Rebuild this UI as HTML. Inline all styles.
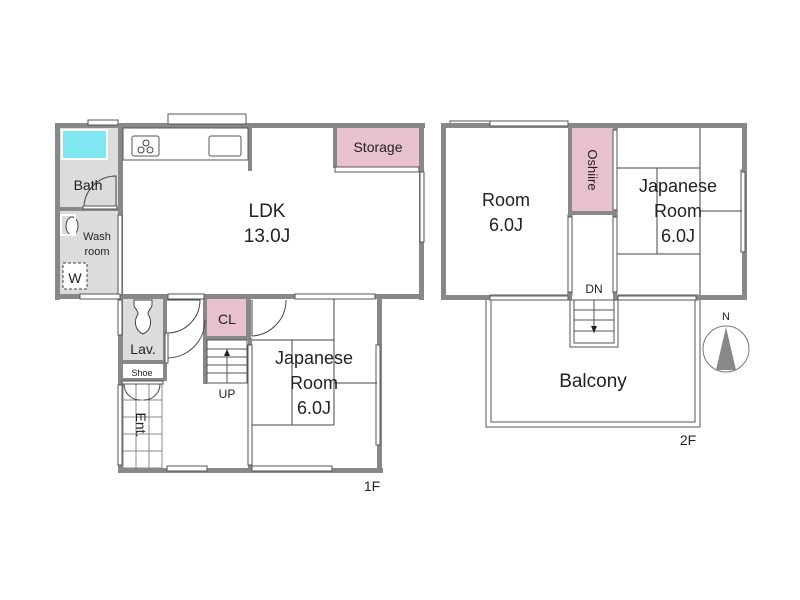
<!DOCTYPE html>
<html><head><meta charset="utf-8"><style>
html,body{margin:0;padding:0;background:#fff;}
svg{display:block;}
text{font-family:"Liberation Sans",sans-serif;fill:#222;}
</style></head><body>
<svg width="800" height="600" viewBox="0 0 800 600" xmlns="http://www.w3.org/2000/svg">
<rect width="800" height="600" fill="#fff"/>
<!-- 1F fills -->
<rect x="57" y="126" width="63" height="172" fill="#dcdcdc"/>
<rect x="122" y="298" width="43" height="62" fill="#dcdcdc"/>
<rect x="335" y="127" width="86" height="40" fill="#e8c1cf"/>
<rect x="206" y="299" width="43" height="39" fill="#e8c1cf"/>
<rect x="62" y="130" width="45" height="29" fill="#80e6f2" stroke="#fff" stroke-width="2"/>
<!-- 1F walls -->
<g fill="#888">
<rect x="55" y="123" width="370" height="5"/>
<rect x="55" y="123" width="5" height="177"/>
<rect x="419" y="123" width="5" height="177"/>
<rect x="55" y="294" width="369" height="5"/>
<rect x="118" y="123" width="5" height="350"/>
<rect x="118" y="468" width="265" height="5"/>
<rect x="377" y="294" width="5" height="179"/>
<rect x="55" y="207" width="65" height="4"/>
<rect x="248" y="123" width="4" height="48"/>
<rect x="333" y="123" width="4" height="45"/>
<rect x="163" y="296" width="4" height="85"/>
<rect x="120" y="360" width="45" height="4"/>
<rect x="120" y="378" width="45" height="3"/>
<rect x="203" y="296" width="4" height="88"/>
<rect x="246" y="296" width="5" height="42"/>
<rect x="203" y="336" width="46" height="4"/>
<rect x="248" y="338" width="4" height="132"/>
</g>
<!-- windows -->
<g fill="#fff" stroke="#555" stroke-width="1">
<rect x="168" y="114" width="78" height="10"/>
<rect x="88" y="120" width="30" height="5"/>
<rect x="335" y="167" width="84" height="5"/>
<rect x="420" y="172" width="4" height="70"/>
<rect x="118" y="215" width="4" height="80"/>
<rect x="80" y="294" width="40" height="5"/>
<rect x="295" y="294" width="80" height="5"/>
<rect x="168" y="294" width="36" height="5"/>
<rect x="118" y="300" width="4" height="35"/>
<rect x="118" y="385" width="4" height="80"/>
<rect x="167" y="466" width="40" height="5"/>
<rect x="252" y="466" width="80" height="5"/>
<rect x="376" y="345" width="4" height="100"/>
<rect x="248" y="345" width="4" height="120"/>
<rect x="450" y="121" width="85" height="5"/>
<rect x="741" y="170" width="4" height="80"/>
<rect x="568" y="215" width="4" height="80"/>
<rect x="613" y="128" width="4" height="165"/>
<rect x="490" y="295" width="80" height="5"/>
<rect x="618" y="295" width="80" height="5"/>
</g>
<!-- kitchen -->
<rect x="123" y="128" width="125" height="32" fill="#fff" stroke="#555"/>
<rect x="132" y="136" width="27" height="20" fill="#fff" stroke="#555" rx="2"/>
<circle cx="141" cy="150" r="3" fill="none" stroke="#444"/><circle cx="150" cy="150" r="3" fill="none" stroke="#444"/><circle cx="146" cy="143" r="3" fill="none" stroke="#444"/>
<rect x="209" y="136" width="32" height="20" fill="#fff" stroke="#555" rx="2"/>
<!-- bath door -->
<path d="M84 207 A32 32 0 0 1 116 176 L116 207" fill="none" stroke="#444"/>
<rect x="83" y="206" width="34" height="3" fill="#fff" stroke="#555"/>
<ellipse cx="72" cy="226" rx="6" ry="9" fill="#fff" stroke="#444"/>
<rect x="61" y="215" width="14" height="20" fill="none" stroke="#fff" stroke-width="2"/>
<rect x="63" y="263" width="24" height="26" fill="#fff" stroke="#444" stroke-dasharray="3,2"/>
<!-- lav toilet -->
<path d="M134 300 L152 300 L152 305 C152 308 148 310 148 314 C152 320 152 330 143 334 C134 330 134 320 138 314 C138 310 134 308 134 305 Z" fill="#fff" stroke="#444"/>
<rect x="123" y="364" width="40" height="14" fill="#fff"/>
<!-- doors -->
<path d="M167 300 L200 300 A33 33 0 0 1 167 333" fill="none" stroke="#444"/>
<path d="M167 338 L167 358 M167 358 A38 38 0 0 0 205 320" fill="none" stroke="#444"/>
<rect x="165" y="333" width="3" height="30" fill="#fff" stroke="#555"/>
<path d="M252 300 L252 336 A36 36 0 0 0 286 300" fill="none" stroke="#444"/>
<!-- ent grid -->
<g stroke="#888" fill="none">
<rect x="123" y="383" width="39" height="85" fill="#fff"/>
<line x1="123" y1="400" x2="162" y2="400"/><line x1="123" y1="417" x2="162" y2="417"/><line x1="123" y1="434" x2="162" y2="434"/><line x1="123" y1="451" x2="162" y2="451"/>
<line x1="136" y1="383" x2="136" y2="468"/><line x1="149" y1="383" x2="149" y2="468"/>
</g>
<path d="M124 384 A16 16 0 0 0 140 400 M160 384 A16 16 0 0 1 144 400" fill="none" stroke="#444"/>
<rect x="122" y="381" width="41" height="3" fill="#fff" stroke="#555"/>
<!-- stairs 1F -->
<g stroke="#555" fill="none">
<rect x="207" y="340" width="40" height="43"/>
<line x1="207" y1="349" x2="247" y2="349"/><line x1="207" y1="357" x2="247" y2="357"/><line x1="207" y1="365" x2="247" y2="365"/><line x1="207" y1="373" x2="247" y2="373"/>
<line x1="227" y1="350" x2="227" y2="383"/>
</g>
<path d="M224 356 L227 349 L230 356 Z" fill="#222"/>
<!-- tatami 1F -->
<g stroke="#444" fill="none">
<line x1="252" y1="340" x2="334" y2="340"/>
<line x1="334" y1="299" x2="334" y2="425"/>
<line x1="292" y1="340" x2="292" y2="425"/>
<line x1="252" y1="425" x2="334" y2="425"/>
<line x1="334" y1="383" x2="377" y2="383"/>
</g>
<!-- 2F -->
<rect x="572" y="128" width="41" height="84" fill="#e8c1cf"/>
<g fill="#888">
<rect x="441" y="123" width="306" height="5"/>
<rect x="441" y="123" width="5" height="177"/>
<rect x="742" y="123" width="5" height="177"/>
<rect x="441" y="295" width="130" height="5"/>
<rect x="616" y="295" width="131" height="5"/>
<rect x="568" y="123" width="4" height="177"/>
<rect x="613" y="123" width="4" height="177"/>
<rect x="568" y="211" width="49" height="4"/>
</g>
<g fill="#fff" stroke="#555">
<rect x="490" y="121" width="78" height="5"/>
<rect x="741" y="172" width="4" height="80"/>
<rect x="568" y="217" width="4" height="75"/>
<rect x="613" y="130" width="4" height="80"/>
<rect x="613" y="217" width="4" height="75"/>
<rect x="490" y="296" width="78" height="4"/>
<rect x="618" y="296" width="78" height="4"/>
</g>
<g stroke="#444" fill="none">
<line x1="700" y1="128" x2="700" y2="295"/>
<line x1="617" y1="168" x2="700" y2="168"/>
<line x1="657" y1="168" x2="657" y2="254"/>
<line x1="617" y1="254" x2="700" y2="254"/>
<line x1="700" y1="211" x2="742" y2="211"/>
</g>
<!-- balcony -->
<path d="M486 300 L486 427 L700 427 L700 300" fill="none" stroke="#555"/>
<path d="M491 300 L491 422 L695 422 L695 300" fill="none" stroke="#555"/>
<!-- stairs 2F -->
<g stroke="#555" fill="none">
<rect x="570" y="300" width="48" height="47"/>
<rect x="574" y="300" width="40" height="43"/>
<line x1="574" y1="310" x2="614" y2="310"/><line x1="574" y1="320" x2="614" y2="320"/><line x1="574" y1="331" x2="614" y2="331"/>
<line x1="594" y1="300" x2="594" y2="333"/>
</g>
<path d="M591 326 L594 333 L597 326 Z" fill="#222"/>
<!-- compass -->
<circle cx="726" cy="349" r="23" fill="#fff" stroke="#777"/>
<path d="M726 327 L716 370 L736 370 Z" fill="#888"/>
<text x="726" y="320" font-size="11" text-anchor="middle" fill="#666">N</text>
<!-- labels -->
<text x="267" y="217" font-size="19" text-anchor="middle">LDK</text>
<text x="267" y="242" font-size="19" text-anchor="middle">13.0J</text>
<text x="378" y="152" font-size="14" text-anchor="middle">Storage</text>
<text x="88" y="190" font-size="14" text-anchor="middle">Bath</text>
<text x="97" y="240" font-size="11" text-anchor="middle">Wash</text>
<text x="97" y="255" font-size="11" text-anchor="middle">room</text>
<text x="75" y="283" font-size="14" text-anchor="middle">W</text>
<text x="143" y="354" font-size="14" text-anchor="middle">Lav.</text>
<text x="142" y="376" font-size="9" text-anchor="middle">Shoe</text>
<text x="227" y="324" font-size="14" text-anchor="middle">CL</text>
<text x="227" y="398" font-size="12" text-anchor="middle">UP</text>
<text transform="translate(136,425) rotate(90)" font-size="14" text-anchor="middle">Ent.</text>
<text x="314" y="364" font-size="18" text-anchor="middle">Japanese</text>
<text x="314" y="389" font-size="18" text-anchor="middle">Room</text>
<text x="314" y="414" font-size="18" text-anchor="middle">6.0J</text>
<text x="372" y="491" font-size="14" text-anchor="middle">1F</text>
<text x="506" y="206" font-size="18" text-anchor="middle">Room</text>
<text x="506" y="231" font-size="18" text-anchor="middle">6.0J</text>
<text transform="translate(588,170) rotate(90)" font-size="13" text-anchor="middle">Oshiire</text>
<text x="678" y="192" font-size="18" text-anchor="middle">Japanese</text>
<text x="678" y="217" font-size="18" text-anchor="middle">Room</text>
<text x="678" y="242" font-size="18" text-anchor="middle">6.0J</text>
<text x="594" y="293" font-size="12" text-anchor="middle">DN</text>
<text x="593" y="387" font-size="19" text-anchor="middle">Balcony</text>
<text x="688" y="445" font-size="14" text-anchor="middle">2F</text>
</svg>
</body></html>
